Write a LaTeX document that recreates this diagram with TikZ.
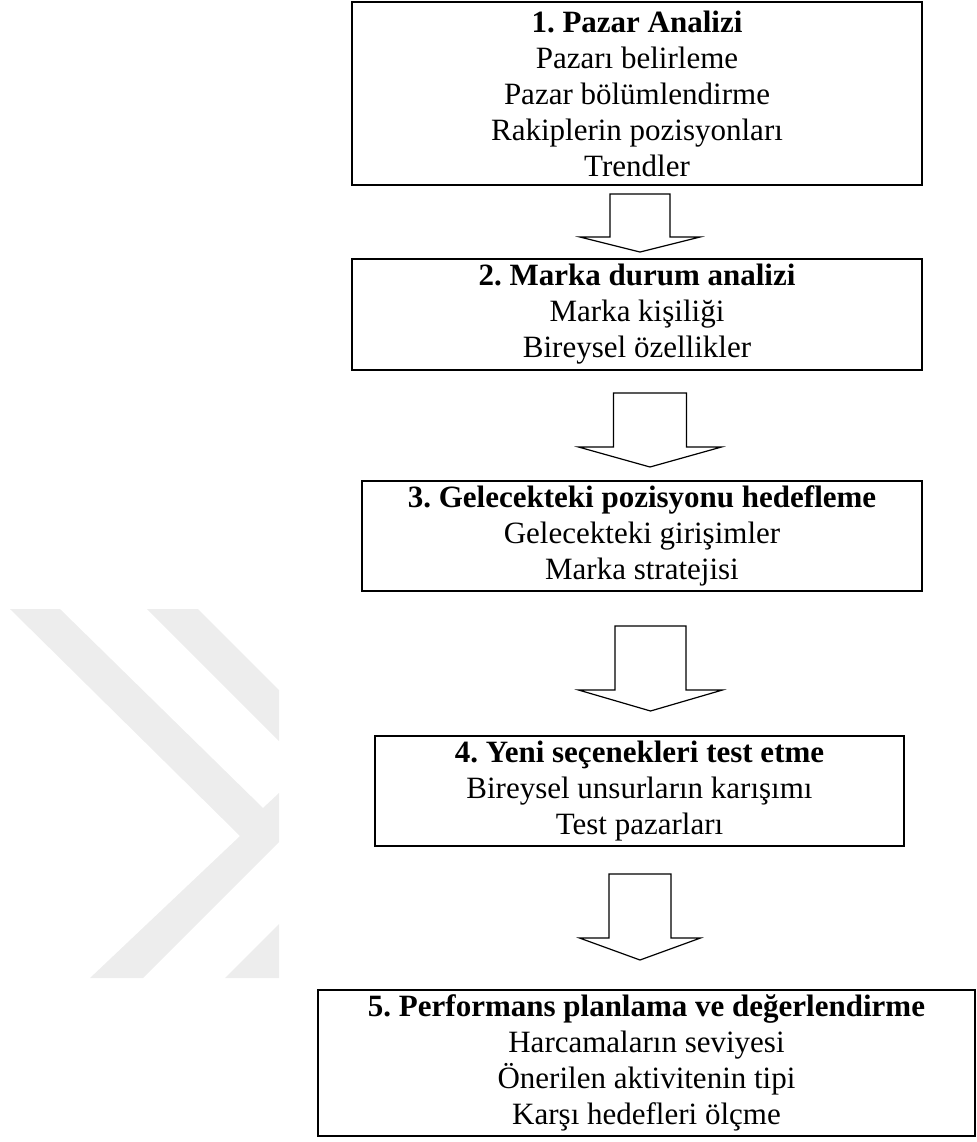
\documentclass[tikz,border=0pt]{standalone}
\usepackage{fontspec}
\setmainfont{Liberation Serif}
\frenchspacing

\tikzset{
	stage/.style={draw, line width=1.2pt, align=center, inner sep=0pt,
		font=\fontsize{15.5}{18}\selectfont},
	flowarrow/.style={draw, line width=0.6pt, fill=white, line join=miter},
	wmark/.style={fill=black!7, draw=none}
}

% x, top, base, tip, half shaft, half head
\newcommand{\DownArrow}[6]{
	\draw[flowarrow] (#1-#5,#2) -- (#1-#5,#3) -- (#1-#6,#3) -- (#1,#4)
		-- (#1+#6,#3) -- (#1+#5,#3) -- (#1+#5,#2) -- cycle;
}

\begin{document}
\begin{tikzpicture}[x=0.5pt,y=-0.5pt]
	\useasboundingbox (0,0) rectangle (977,1142);
	% watermark
	\fill[wmark] (10,609) -- (60,609) -- (263,808) -- (279,793) -- (279,842)
		-- (143,978) -- (90,978) -- (240,836) -- cycle;
	\fill[wmark] (147,609) -- (198,609) -- (279,690) -- (279,741) -- cycle;
	\fill[wmark] (225,978) -- (279,924) -- (279,978) -- cycle;

		\node[stage, minimum width=285pt, minimum height=91.5pt] (pazar) at (637,93.5)
			{\textbf{1. Pazar Analizi}\\Pazarı belirleme\\Pazar bölümlendirme\\Rakiplerin pozisyonları\\Trendler};
		\node[stage, minimum width=285pt, minimum height=55.5pt] (marka) at (637,314.5)
			{\textbf{2. Marka durum analizi}\\Marka kişiliği\\Bireysel özellikler};
		\node[stage, minimum width=280pt, minimum height=55pt] (hedef) at (642,536)
			{\textbf{3. Gelecekteki pozisyonu hedefleme}\\Gelecekteki girişimler\\Marka stratejisi};
		\node[stage, minimum width=264.5pt, minimum height=55pt] (test) at (639.5,791)
			{\textbf{4. Yeni seçenekleri test etme}\\Bireysel unsurların karışımı\\Test pazarları};
		\node[stage, minimum width=328.5pt, minimum height=73pt] (perf) at (646.5,1063)
			{\textbf{5. Performans planlama ve değerlendirme}\\Harcamaların seviyesi\\Önerilen aktivitenin tipi\\Karşı hedefleri ölçme};

		\DownArrow{640}{194}{237}{252}{30}{60}
		\DownArrow{650}{393}{447}{467}{36.5}{71.5}
		\DownArrow{650.5}{626}{690}{711}{35.5}{72}
		\DownArrow{640}{874}{938}{960}{31}{60.5}
\end{tikzpicture}
\end{document}
